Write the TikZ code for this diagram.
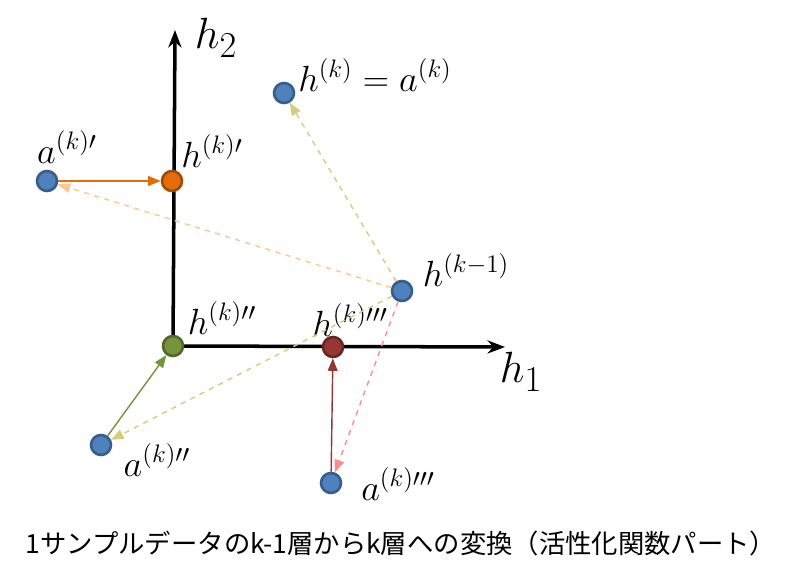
\documentclass[tikz,border=0pt]{standalone}
\usepackage{fontspec}
\newfontfamily\cjk{Noto Sans CJK JP}
\usetikzlibrary{arrows.meta, backgrounds}
\definecolor{dotblue}{HTML}{4F81BD}
\definecolor{dotedge}{HTML}{385D8A}
\definecolor{dotorange}{HTML}{E46C0A}
\definecolor{dotgreen}{HTML}{77933C}
\definecolor{dotred}{HTML}{953735}
\begin{document}
\begin{tikzpicture}[x=0.02cm, y=-0.02cm,
dotnode/.style={circle, draw=dotedge, fill=dotblue, line width=1.5pt, minimum size=4mm, inner sep=0pt},
labelnode/.style={font=\fontsize{22}{26}\selectfont},
axislabel/.style={font=\fontsize{28}{32}\selectfont},
axis/.style={line width=2pt, -{Stealth[length=3.5mm]}},
]
\useasboundingbox (0,0) rectangle (802,587);
%Nodes
\node[dotnode, draw=dotgreen!70!black, fill=dotgreen] (O)    at (173,346) {};
\node[dotnode]                                     (hk)   at (284,93) {};
\node[dotnode]                                     (a1)   at (47,181) {};
\node[dotnode, draw=dotorange!70!black, fill=dotorange] (h1) at (172,181) {};
\node[dotnode]                                     (hprev) at (402,291) {};
\node[dotnode, draw=dotred!70!black, fill=dotred]  (h3)   at (333,347) {};
\node[dotnode]                                     (a2)   at (101,445) {};
\node[dotnode]                                     (a3)   at (331,483) {};
\coordinate (top) at (175,30);
\coordinate (right) at (505,347);

%Labels
\node[axislabel] (lh2) at (216,38) {$h_2$};
\node[axislabel] (lh1) at (521,372) {$h_1$};
\node[labelnode] (lhk) at (375,75) {$h^{(k)}=a^{(k)}$};
\node[labelnode] (la1) at (67,147) {$a^{(k)\prime}$};
\node[labelnode] (lh1p) at (212,151) {$h^{(k)\prime}$};
\node[labelnode] (lhprev) at (466,270) {$h^{(k-1)}$};
\node[labelnode] (lh2p) at (222,318) {$h^{(k)\prime\prime}$};
\node[labelnode] (lh3p) at (350,320) {$h^{(k)\prime\prime\prime}$};
\node[labelnode] (la2) at (157,460) {$a^{(k)\prime\prime}$};
\node[labelnode] (la3) at (398,484) {$a^{(k)\prime\prime\prime}$};
\node[font=\cjk\fontsize{15}{18}\selectfont] (cap) at (401,543) {1サンプルデータのk-1層からk層への変換（活性化関数パート）};

%Lines
\begin{scope}[on background layer]
\draw[axis] (O.center) -- (top);
\draw[axis] (O.center) -- (right);
\end{scope}
\draw[dashed, thick, color=orange!45, -{Triangle[length=2.5mm]}] (hprev) -- (a1);
\draw[dashed, thick, color=olive!40, -{Triangle[length=2.5mm]}] (hprev) -- (hk);
\draw[dashed, thick, color=olive!40, -{Triangle[length=2.5mm]}] (hprev) -- (a2);
\draw[dashed, thick, color=red!45, -{Triangle[length=2.5mm]}] (hprev) -- (a3);
\draw[thick, color=dotorange, -{Triangle[length=2.5mm]}] (a1) -- (h1);
\draw[thick, color=dotgreen, -{Triangle[length=2.5mm]}] (a2) -- (O);
\draw[thick, color=dotred, -{Triangle[length=2.5mm]}] (a3) -- (h3);
\end{tikzpicture}
\end{document}
